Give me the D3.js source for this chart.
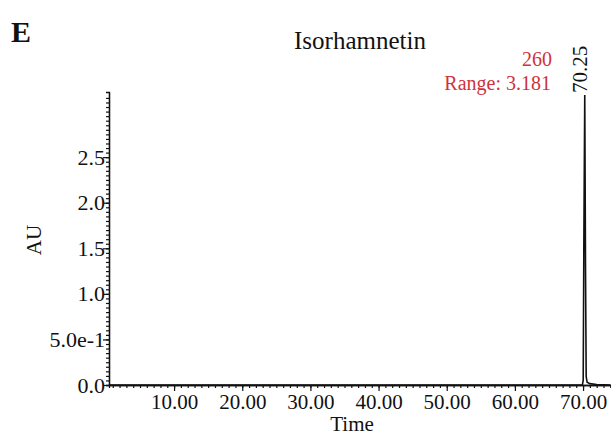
<!DOCTYPE html>
<html>
<head>
<meta charset="utf-8">
<script src="https://cdn.jsdelivr.net/npm/d3@7"></script>
<style>
  body { margin: 0; background: #fff; }
  svg text { font-family: "Liberation Serif", "Times New Roman", serif; fill: #111; }
</style>
</head>
<body>
<div id="chart"></div>
<script>
// chromatogram trace, time (min) vs absorbance (AU)
var times = [0.5, 10, 20, 30, 40, 50, 60, 69.9, 70.02, 70.12, 70.25, 70.36, 70.46, 70.6, 71.0, 72.0, 74.0];
var au    = [0.0, 0.0, 0.0, 0.0, 0.0, 0.0, 0.0, 0.0, 0.05, 1.6, 3.181, 1.3, 0.09, 0.03, 0.015, 0.005, 0.0];
var xTicks = [10, 20, 30, 40, 50, 60, 70];
var yTicks = [0, 0.5, 1.0, 1.5, 2.0, 2.5];
var yTickLabels = ['0.0', '5.0e-1', '1.0', '1.5', '2.0', '2.5'];
var peakTime = 70.25;

var W = 611, H = 435;
var margin = {top: 92, right: 0, bottom: 50, left: 109},
    width = W - margin.left - margin.right,
    height = H - margin.top - margin.bottom;

var x = d3.scaleLinear().domain([0.45, 74.1]).range([0, width]);
var y = d3.scaleLinear().domain([0, 3.215]).range([height, 0]);

var svg = d3.select('#chart').append('svg')
    .attr('width', W)
    .attr('height', H);

var g = svg.append('g')
    .attr('transform', 'translate(' + margin.left + ',' + margin.top + ')');

// minor ticks first, then major axes on top
var xMinor = d3.axisBottom(x).tickValues(d3.range(1, 75, 1)).tickSize(3).tickFormat('');
var yMinor = d3.axisLeft(y).tickValues(d3.range(0, 3.2, 0.05)).tickSize(3).tickFormat('');

g.append('g')
    .attr('class', 'x minor')
    .attr('transform', 'translate(0,' + height + ')')
    .call(xMinor);

g.append('g')
    .attr('class', 'y minor')
    .call(yMinor);

var xAxis = d3.axisBottom(x).tickValues(xTicks).tickSize(6).tickSizeOuter(0)
    .tickFormat(function(d) { return d3.format('.2f')(d); });
var yAxis = d3.axisLeft(y).tickValues(yTicks).tickSize(6).tickSizeOuter(0)
    .tickFormat(function(d, i) { return yTickLabels[i]; });

var xg = g.append('g')
    .attr('class', 'x axis')
    .attr('transform', 'translate(0,' + height + ')')
    .call(xAxis);
xg.selectAll('text').attr('font-size', 21).attr('dy', '0.95em').attr('y', 4);

var yg = g.append('g')
    .attr('class', 'y axis')
    .call(yAxis);
yg.selectAll('text').attr('font-size', 22).attr('x', -4).attr('dy', '0.32em');

svg.selectAll('.axis path, .minor path').attr('stroke', '#111').attr('stroke-width', 1.3);
svg.selectAll('.tick line').attr('stroke', '#111').attr('stroke-width', 1.2);

// trace
var line = d3.line()
    .x(function(d, i) { return x(times[i]); })
    .y(function(d) { return y(d); });

g.append('path')
    .attr('class', 'line')
    .attr('d', line(au))
    .attr('fill', 'none')
    .attr('stroke', '#111')
    .attr('stroke-width', 1.6);

// peak label
g.append('text')
    .attr('transform', 'translate(' + (x(peakTime) + 2) + ',1) rotate(-90)')
    .attr('font-size', 21)
    .text('70.25');

// titles
svg.append('text')
    .attr('x', 11).attr('y', 42)
    .attr('font-size', 30).attr('font-weight', 'bold')
    .text('E');

svg.append('text')
    .attr('x', 360).attr('y', 49)
    .attr('text-anchor', 'middle')
    .attr('font-size', 25)
    .text('Isorhamnetin');

svg.append('text')
    .attr('x', 552).attr('y', 66)
    .attr('text-anchor', 'end')
    .attr('font-size', 20)
    .style('fill', '#d0323c')
    .text('260');

svg.append('text')
    .attr('x', 551).attr('y', 90)
    .attr('text-anchor', 'end')
    .attr('font-size', 20)
    .style('fill', '#d0323c')
    .text('Range: 3.181');

svg.append('text')
    .attr('x', 352).attr('y', 431)
    .attr('text-anchor', 'middle')
    .attr('font-size', 21)
    .text('Time');

svg.append('text')
    .attr('transform', 'translate(41,240) rotate(-90)')
    .attr('text-anchor', 'middle')
    .attr('font-size', 21)
    .text('AU');
</script>
</body>
</html>
